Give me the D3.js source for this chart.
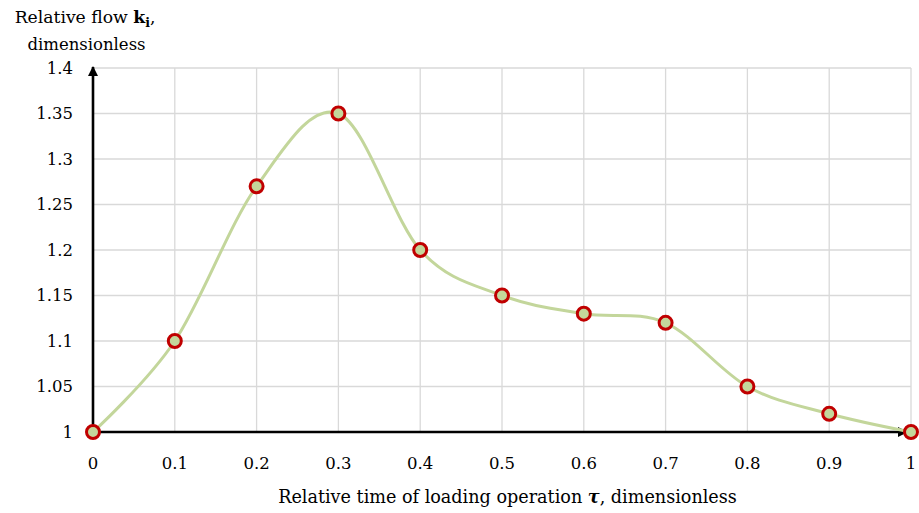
<!DOCTYPE html>
<html><head><meta charset="utf-8">
<script src="https://cdn.jsdelivr.net/npm/d3@7"></script>
<style>
html,body{margin:0;padding:0;background:#fff;}
svg text{font-family:"DejaVu Serif","Liberation Serif",serif;fill:#000;}
</style></head>
<body><svg id="c" width="919" height="513"></svg>
<script>
const xValues = [0, 0.1, 0.2, 0.3, 0.4, 0.5, 0.6, 0.7, 0.8, 0.9, 1];
const flowValues = [1, 1.1, 1.27, 1.35, 1.2, 1.15, 1.13, 1.12, 1.05, 1.02, 1];
const xTicks = [0, 0.1, 0.2, 0.3, 0.4, 0.5, 0.6, 0.7, 0.8, 0.9, 1];
const yTicks = [1, 1.05, 1.1, 1.15, 1.2, 1.25, 1.3, 1.35, 1.4];

const svg = d3.select("#c");
const x = d3.scaleLinear().domain([0, 1]).range([93, 911]);
const y = d3.scaleLinear().domain([1, 1.4]).range([432, 68]);
const fs = 16.5;

// grid
svg.append("g").selectAll("line").data(xTicks.slice(1)).join("line")
  .attr("x1", d => x(d)).attr("x2", d => x(d)).attr("y1", y(1)).attr("y2", y(1.4))
  .attr("stroke", "#d9d9d9").attr("stroke-width", 1.3);
svg.append("g").selectAll("line").data(yTicks.slice(1)).join("line")
  .attr("x1", x(0)).attr("x2", x(1)).attr("y1", d => y(d)).attr("y2", d => y(d))
  .attr("stroke", "#d9d9d9").attr("stroke-width", 1.3);

// axes with arrows
const defs = svg.append("defs");
defs.append("marker").attr("id", "arr").attr("viewBox", "0 0 10 10")
  .attr("refX", 9).attr("refY", 5).attr("markerWidth", 4).attr("markerHeight", 4.5)
  .attr("orient", "auto").append("path").attr("d", "M0,0 L10,5 L0,10 Z").attr("fill", "#000");
svg.append("line").attr("x1", x(0)).attr("x2", x(0)).attr("y1", y(1) + 1.5).attr("y2", y(1.4) - 1)
  .attr("stroke", "#000").attr("stroke-width", 2.6).attr("marker-end", "url(#arr)");
svg.append("line").attr("x1", x(0)).attr("x2", x(1) - 4).attr("y1", y(1)).attr("y2", y(1))
  .attr("stroke", "#000").attr("stroke-width", 2.6).attr("marker-end", "url(#arr)");

// tick labels
svg.append("g").selectAll("text").data(yTicks).join("text")
  .attr("x", 73).attr("y", d => y(d)).attr("dy", "0.35em").attr("text-anchor", "end")
  .attr("font-size", fs).text(d => d3.format("")(d));
svg.append("g").selectAll("text").data(xTicks).join("text")
  .attr("x", d => x(d)).attr("y", 463).attr("dy", "0.35em").attr("text-anchor", "middle")
  .attr("font-size", fs).text(d => d3.format("")(d));

// line
const pts = xValues.map((v, i) => [v, flowValues[i]]);
svg.append("path").datum(pts)
  .attr("d", d3.line().x(d => x(d[0])).y(d => y(d[1])).curve(d3.curveCardinal.tension(0)))
  .attr("fill", "none").attr("stroke", "#c3d69b").attr("stroke-width", 3);
svg.append("g").selectAll("circle").data(pts).join("circle")
  .attr("cx", d => x(d[0])).attr("cy", d => y(d[1])).attr("r", 6.5)
  .attr("fill", "#c4d79b").attr("stroke", "#c00000").attr("stroke-width", 3);

// titles
const t1 = svg.append("text").attr("x", 85).attr("y", 23).attr("text-anchor", "middle").attr("font-size", 17.2);
t1.append("tspan").text("Relative flow ");
t1.append("tspan").attr("font-weight", "bold").text("k");
t1.append("tspan").attr("font-weight", "bold").attr("font-size", 12.5).attr("dy", 4).text("i");
t1.append("tspan").attr("dy", -4).text(",");
svg.append("text").attr("x", 86.5).attr("y", 50).attr("text-anchor", "middle").attr("font-size", fs).text("dimensionless");

const t2 = svg.append("text").attr("x", 507.5).attr("y", 503).attr("text-anchor", "middle").attr("font-size", 17.6);
t2.append("tspan").text("Relative time of loading operation ");
t2.append("tspan").attr("font-weight", "bold").attr("font-style", "italic").text("τ");
t2.append("tspan").text(", dimensionless");
</script></body></html>
